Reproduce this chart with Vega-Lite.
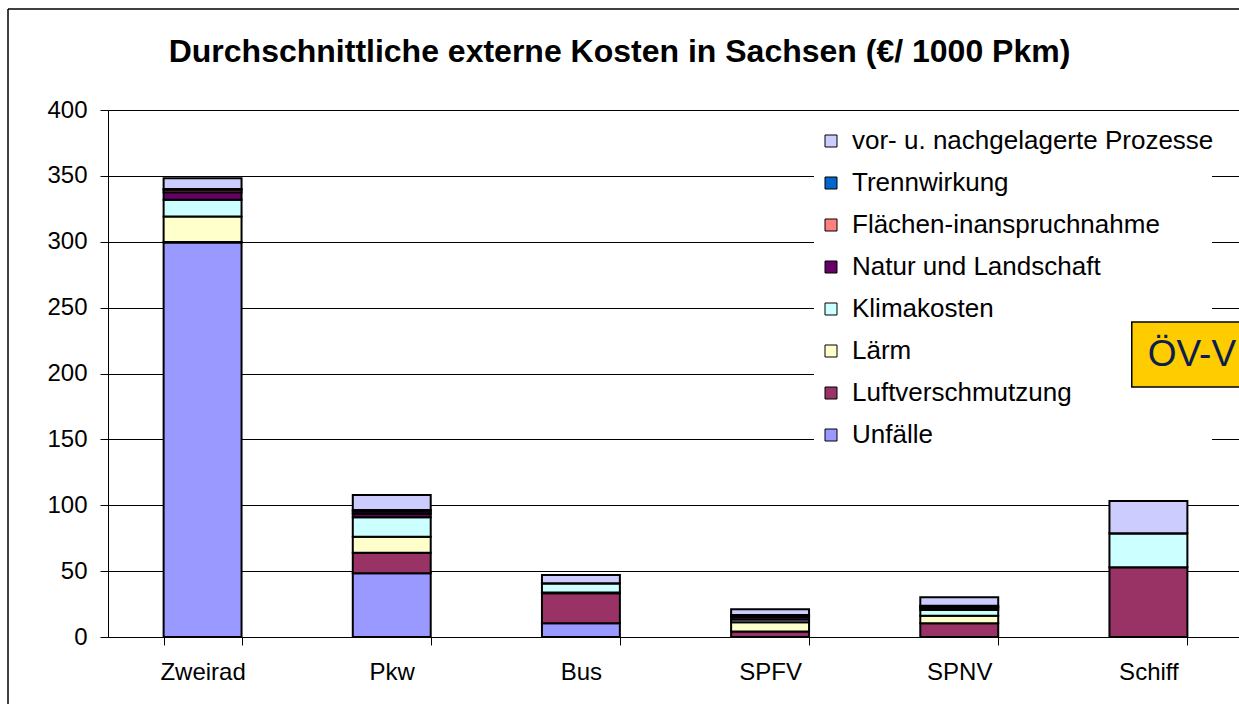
{
  "$schema": "https://vega.github.io/schema/vega-lite/v6.json",
  "width": 1135,
  "height": 527,
  "autosize": {"type": "none"},
  "padding": {"left": 108, "top": 110, "right": 0, "bottom": 67},
  "background": "white",
  "config": {"font": "Liberation Sans", "view": {"stroke": null}},
  "title": {"text": "Durchschnittliche externe Kosten in Sachsen (€/ 1000 Pkm)", "fontSize": 32, "fontWeight": "bold", "color": "black", "anchor": "middle", "frame": "group", "dx": -56, "offset": -61},
  "datasets": {
    "kosten": [
      {"Verkehrsmittel": "Zweirad", "Kostenart": "Unfälle", "Stapel": 1, "Kosten": 299.5},
      {"Verkehrsmittel": "Zweirad", "Kostenart": "Luftverschmutzung", "Stapel": 2, "Kosten": 0.3},
      {"Verkehrsmittel": "Zweirad", "Kostenart": "Lärm", "Stapel": 3, "Kosten": 19.4},
      {"Verkehrsmittel": "Zweirad", "Kostenart": "Klimakosten", "Stapel": 4, "Kosten": 12.6},
      {"Verkehrsmittel": "Zweirad", "Kostenart": "Natur und Landschaft", "Stapel": 5, "Kosten": 5.8},
      {"Verkehrsmittel": "Zweirad", "Kostenart": "Flächen-inanspruchnahme", "Stapel": 6, "Kosten": 1.8},
      {"Verkehrsmittel": "Zweirad", "Kostenart": "Trennwirkung", "Stapel": 7, "Kosten": 0.6},
      {"Verkehrsmittel": "Zweirad", "Kostenart": "vor- u. nachgelagerte Prozesse", "Stapel": 8, "Kosten": 8.2},
      {"Verkehrsmittel": "Pkw", "Kostenart": "Unfälle", "Stapel": 1, "Kosten": 48.4},
      {"Verkehrsmittel": "Pkw", "Kostenart": "Luftverschmutzung", "Stapel": 2, "Kosten": 15.6},
      {"Verkehrsmittel": "Pkw", "Kostenart": "Lärm", "Stapel": 3, "Kosten": 12.1},
      {"Verkehrsmittel": "Pkw", "Kostenart": "Klimakosten", "Stapel": 4, "Kosten": 14.7},
      {"Verkehrsmittel": "Pkw", "Kostenart": "Natur und Landschaft", "Stapel": 5, "Kosten": 2.6},
      {"Verkehrsmittel": "Pkw", "Kostenart": "Flächen-inanspruchnahme", "Stapel": 6, "Kosten": 1.6},
      {"Verkehrsmittel": "Pkw", "Kostenart": "Trennwirkung", "Stapel": 7, "Kosten": 1.4},
      {"Verkehrsmittel": "Pkw", "Kostenart": "vor- u. nachgelagerte Prozesse", "Stapel": 8, "Kosten": 11.4},
      {"Verkehrsmittel": "Bus", "Kostenart": "Unfälle", "Stapel": 1, "Kosten": 10.4},
      {"Verkehrsmittel": "Bus", "Kostenart": "Luftverschmutzung", "Stapel": 2, "Kosten": 22.8},
      {"Verkehrsmittel": "Bus", "Kostenart": "Lärm", "Stapel": 3, "Kosten": 0.5},
      {"Verkehrsmittel": "Bus", "Kostenart": "Klimakosten", "Stapel": 4, "Kosten": 7.1},
      {"Verkehrsmittel": "Bus", "Kostenart": "Natur und Landschaft", "Stapel": 5, "Kosten": 0},
      {"Verkehrsmittel": "Bus", "Kostenart": "Flächen-inanspruchnahme", "Stapel": 6, "Kosten": 0},
      {"Verkehrsmittel": "Bus", "Kostenart": "Trennwirkung", "Stapel": 7, "Kosten": 0},
      {"Verkehrsmittel": "Bus", "Kostenart": "vor- u. nachgelagerte Prozesse", "Stapel": 8, "Kosten": 6.3},
      {"Verkehrsmittel": "SPFV", "Kostenart": "Unfälle", "Stapel": 1, "Kosten": 0},
      {"Verkehrsmittel": "SPFV", "Kostenart": "Luftverschmutzung", "Stapel": 2, "Kosten": 4.1},
      {"Verkehrsmittel": "SPFV", "Kostenart": "Lärm", "Stapel": 3, "Kosten": 7.1},
      {"Verkehrsmittel": "SPFV", "Kostenart": "Klimakosten", "Stapel": 4, "Kosten": 2.0},
      {"Verkehrsmittel": "SPFV", "Kostenart": "Natur und Landschaft", "Stapel": 5, "Kosten": 2.0},
      {"Verkehrsmittel": "SPFV", "Kostenart": "Flächen-inanspruchnahme", "Stapel": 6, "Kosten": 0.8},
      {"Verkehrsmittel": "SPFV", "Kostenart": "Trennwirkung", "Stapel": 7, "Kosten": 0.7},
      {"Verkehrsmittel": "SPFV", "Kostenart": "vor- u. nachgelagerte Prozesse", "Stapel": 8, "Kosten": 4.3},
      {"Verkehrsmittel": "SPNV", "Kostenart": "Unfälle", "Stapel": 1, "Kosten": 0},
      {"Verkehrsmittel": "SPNV", "Kostenart": "Luftverschmutzung", "Stapel": 2, "Kosten": 10.4},
      {"Verkehrsmittel": "SPNV", "Kostenart": "Lärm", "Stapel": 3, "Kosten": 5.8},
      {"Verkehrsmittel": "SPNV", "Kostenart": "Klimakosten", "Stapel": 4, "Kosten": 4.3},
      {"Verkehrsmittel": "SPNV", "Kostenart": "Natur und Landschaft", "Stapel": 5, "Kosten": 1.6},
      {"Verkehrsmittel": "SPNV", "Kostenart": "Flächen-inanspruchnahme", "Stapel": 6, "Kosten": 0.9},
      {"Verkehrsmittel": "SPNV", "Kostenart": "Trennwirkung", "Stapel": 7, "Kosten": 0.8},
      {"Verkehrsmittel": "SPNV", "Kostenart": "vor- u. nachgelagerte Prozesse", "Stapel": 8, "Kosten": 6.3},
      {"Verkehrsmittel": "Schiff", "Kostenart": "Unfälle", "Stapel": 1, "Kosten": 0},
      {"Verkehrsmittel": "Schiff", "Kostenart": "Luftverschmutzung", "Stapel": 2, "Kosten": 52.9},
      {"Verkehrsmittel": "Schiff", "Kostenart": "Lärm", "Stapel": 3, "Kosten": 0},
      {"Verkehrsmittel": "Schiff", "Kostenart": "Klimakosten", "Stapel": 4, "Kosten": 25.8},
      {"Verkehrsmittel": "Schiff", "Kostenart": "Natur und Landschaft", "Stapel": 5, "Kosten": 0},
      {"Verkehrsmittel": "Schiff", "Kostenart": "Flächen-inanspruchnahme", "Stapel": 6, "Kosten": 0},
      {"Verkehrsmittel": "Schiff", "Kostenart": "Trennwirkung", "Stapel": 7, "Kosten": 0},
      {"Verkehrsmittel": "Schiff", "Kostenart": "vor- u. nachgelagerte Prozesse", "Stapel": 8, "Kosten": 24.5}
    ],
    "legendenflaeche": [
      {"x1": 0.622, "x2": 0.9727, "y1": 136.6, "y2": 390.1}
    ],
    "hinweis": [
      {"label": "ÖV-V", "x1": 0.902, "x2": 1.2, "y1": 189.8, "y2": 239.1, "tx": 0.916, "ty": 214.4}
    ],
    "rahmen": [
      {"x1": -0.0881, "x2": -0.0881, "y1": -60, "y2": 476.7},
      {"x1": -0.0881, "x2": 1.2, "y1": 476.7, "y2": 476.7}
    ]
  },
  "layer": [
    {
      "data": {"name": "kosten"},
      "mark": {"type": "bar", "stroke": "black", "strokeWidth": 2},
      "encoding": {
        "x": {
          "field": "Verkehrsmittel", "type": "nominal",
          "sort": ["Zweirad", "Pkw", "Bus", "SPFV", "SPNV", "Schiff"],
          "scale": {"paddingInner": 0.588, "paddingOuter": 0.294},
          "axis": {"title": null, "tickBand": "extent", "labelAngle": 0, "labelFontSize": 24, "labelColor": "black", "tickColor": "black", "domainColor": "black", "tickSize": 8, "labelPadding": 15, "grid": false}
        },
        "y": {
          "field": "Kosten", "type": "quantitative", "stack": "zero",
          "scale": {"domain": [0, 400], "nice": false},
          "axis": {"title": null, "values": [0, 50, 100, 150, 200, 250, 300, 350, 400], "labelFontSize": 24, "labelColor": "black", "tickColor": "black", "domainColor": "black", "gridColor": "black", "gridWidth": 1, "tickSize": 8, "labelPadding": 13, "grid": true}
        },
        "color": {
          "field": "Kostenart", "type": "nominal",
          "scale": {
            "domain": ["vor- u. nachgelagerte Prozesse", "Trennwirkung", "Flächen-inanspruchnahme", "Natur und Landschaft", "Klimakosten", "Lärm", "Luftverschmutzung", "Unfälle"],
            "range": ["#CCCCFF", "#0066CC", "#FF8080", "#660066", "#CCFFFF", "#FFFFCC", "#993366", "#9999FF"]
          },
          "legend": {"title": null, "orient": "none", "legendX": 702, "legendY": 10, "padding": 8, "labelFontSize": 26, "labelColor": "black", "labelLimit": 600, "symbolType": "square", "symbolSize": 144, "symbolStrokeColor": "black", "symbolStrokeWidth": 1, "rowPadding": 16, "labelOffset": 8}
        },
        "order": {"field": "Stapel", "type": "quantitative"}
      }
    },
    {
      "data": {"name": "legendenflaeche"},
      "mark": {"type": "rect", "fill": "white", "clip": false},
      "encoding": {
        "x": {"field": "x1", "type": "quantitative", "scale": {"domain": [0, 1]}, "axis": null},
        "x2": {"field": "x2"},
        "y": {"field": "y1", "type": "quantitative"},
        "y2": {"field": "y2"}
      }
    },
    {
      "data": {"name": "hinweis"},
      "mark": {"type": "rect", "fill": "#FFCC00", "stroke": "black", "strokeWidth": 1.5, "clip": false},
      "encoding": {
        "x": {"field": "x1", "type": "quantitative", "scale": {"domain": [0, 1]}, "axis": null},
        "x2": {"field": "x2"},
        "y": {"field": "y1", "type": "quantitative"},
        "y2": {"field": "y2"}
      }
    },
    {
      "data": {"name": "hinweis"},
      "mark": {"type": "text", "align": "left", "baseline": "middle", "fontSize": 37, "color": "#0B1E4E", "clip": false},
      "encoding": {
        "x": {"field": "tx", "type": "quantitative", "scale": {"domain": [0, 1]}, "axis": null},
        "y": {"field": "ty", "type": "quantitative"},
        "text": {"field": "label"}
      }
    },
    {
      "data": {"name": "rahmen"},
      "mark": {"type": "rule", "color": "black", "strokeWidth": 1.5, "clip": false},
      "encoding": {
        "x": {"field": "x1", "type": "quantitative", "scale": {"domain": [0, 1]}, "axis": null},
        "x2": {"field": "x2"},
        "y": {"field": "y1", "type": "quantitative"},
        "y2": {"field": "y2"}
      }
    }
  ],
  "resolve": {"scale": {"x": "independent"}, "axis": {"x": "independent"}}
}
